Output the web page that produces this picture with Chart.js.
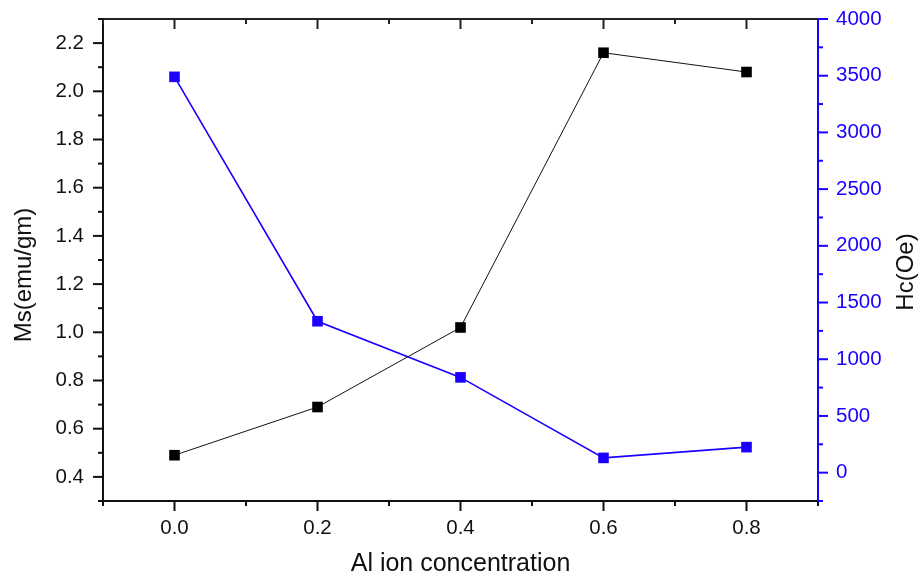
<!DOCTYPE html>
<html>
<head>
<meta charset="utf-8">
<script src="https://cdn.jsdelivr.net/npm/chart.js@4.4.1/dist/chart.umd.min.js"></script>
<style>
  html, body { margin: 0; padding: 0; background: #fff; }
  #wrap { position: relative; width: 922px; height: 579px; }
</style>
</head>
<body>
<div id="wrap"><canvas id="chart"></canvas></div>
<script>
// data
const alConc = [0.0, 0.2, 0.4, 0.6, 0.8];
const msValues = [0.49, 0.69, 1.02, 2.16, 2.08];
const hcValues = [3490, 1335, 840, 130, 225];

// ticks
const xTicks = [0.0, 0.2, 0.4, 0.6, 0.8];
const xMinor = [-0.1, 0.1, 0.3, 0.5, 0.7, 0.9];
const msTicks = [0.4, 0.6, 0.8, 1.0, 1.2, 1.4, 1.6, 1.8, 2.0, 2.2];
const msMinor = [0.3, 0.5, 0.7, 0.9, 1.1, 1.3, 1.5, 1.7, 1.9, 2.1, 2.3];
const hcTicks = [0, 500, 1000, 1500, 2000, 2500, 3000, 3500, 4000];
const hcMinor = [-250, 250, 750, 1250, 1750, 2250, 2750, 3250, 3750];

const BLUE = '#1a00ff';
const FONT = 'Liberation Sans, Arial, sans-serif';

const setTicks = (vals) => (scale) => { scale.ticks = vals.map(v => ({ value: v })); };
// fixed box sizes so the plot area lands where the original has it
const fixSize = (prop, px) => (scale) => {
  scale[prop] = px;
  scale.paddingTop = 0;
  scale.paddingBottom = 0;
  scale.paddingLeft = 0;
  scale.paddingRight = 0;
};

// frame + major/minor tick marks + y titles (both read bottom-to-top)
const framePlugin = {
  id: 'frame',
  afterDraw(chart) {
    const { ctx, chartArea: a, scales } = chart;
    const x = scales.x, yl = scales.y, yr = scales.y1;
    ctx.save();
    ctx.lineWidth = 2;
    ctx.lineCap = 'square';

    const line = (x1, y1, x2, y2, color) => {
      ctx.strokeStyle = color;
      ctx.beginPath();
      ctx.moveTo(x1, y1);
      ctx.lineTo(x2, y2);
      ctx.stroke();
    };

    line(a.left, a.top, a.right, a.top, '#222');
    line(a.left, a.bottom, a.right, a.bottom, '#111');
    line(a.left, a.top, a.left, a.bottom, '#111');

    ctx.lineCap = 'butt';
    xTicks.forEach(v => {
      const px = x.getPixelForValue(v);
      line(px, a.bottom, px, a.bottom + 10, '#111');
      line(px, a.top, px, a.top + 10, '#222');
    });
    xMinor.forEach(v => {
      const px = x.getPixelForValue(v);
      line(px, a.bottom, px, a.bottom + 5, '#111');
      line(px, a.top, px, a.top + 5, '#222');
    });
    msTicks.forEach(v => {
      const py = yl.getPixelForValue(v);
      line(a.left - 10, py, a.left, py, '#111');
    });
    msMinor.forEach(v => {
      const py = yl.getPixelForValue(v);
      line(a.left - 5, py, a.left, py, '#111');
    });
    hcTicks.forEach(v => {
      const py = yr.getPixelForValue(v);
      line(a.right, py, a.right + 10, py, BLUE);
    });
    hcMinor.forEach(v => {
      const py = yr.getPixelForValue(v);
      line(a.right, py, a.right + 5, py, BLUE);
    });
    ctx.lineCap = 'square';
    line(a.right, a.top, a.right, a.bottom, BLUE);

    const vText = (text, cx, cy) => {
      ctx.save();
      ctx.translate(cx, cy);
      ctx.rotate(-Math.PI / 2);
      ctx.fillStyle = '#111';
      ctx.font = '24px ' + FONT;
      ctx.textAlign = 'center';
      ctx.textBaseline = 'middle';
      ctx.fillText(text, 0, 0);
      ctx.restore();
    };
    vText('Ms(emu/gm)', 24, 275);
    vText('Hc(Oe)', 906, 272);
    ctx.restore();
  }
};

new Chart(document.getElementById('chart'), {
  type: 'line',
  data: {
    datasets: [
      {
        label: 'Ms',
        data: alConc.map((c, i) => ({ x: c, y: msValues[i] })),
        yAxisID: 'y',
        borderColor: '#111',
        backgroundColor: '#000',
        borderWidth: 1,
        pointStyle: 'rect',
        pointRadius: 7.5,
        pointBorderWidth: 0,
        tension: 0
      },
      {
        label: 'Hc',
        data: alConc.map((c, i) => ({ x: c, y: hcValues[i] })),
        yAxisID: 'y1',
        borderColor: BLUE,
        backgroundColor: BLUE,
        borderWidth: 1.6,
        pointStyle: 'rect',
        pointRadius: 7.5,
        pointBorderWidth: 0,
        tension: 0
      }
    ]
  },
  options: {
    responsive: true,
    maintainAspectRatio: false,
    animation: false,
    layout: { padding: { top: 19, left: 0, right: 0, bottom: 0 } },
    plugins: { legend: { display: false }, tooltip: { enabled: false } },
    scales: {
      x: {
        type: 'linear',
        min: -0.1,
        max: 0.9,
        afterBuildTicks: setTicks(xTicks),
        afterFit: fixSize('height', 78),
        grid: { display: false, drawTicks: false },
        border: { display: false },
        ticks: {
          padding: 15,
          color: '#111',
          font: { family: FONT, size: 20.5 },
          callback: v => v.toFixed(1)
        },
        title: {
          display: true,
          text: 'Al ion concentration',
          color: '#111',
          font: { family: FONT, size: 25 },
          padding: { top: 0, bottom: 0 }
        }
      },
      y: {
        position: 'left',
        min: 0.3,
        max: 2.3,
        afterBuildTicks: setTicks(msTicks),
        afterFit: fixSize('width', 103),
        grid: { display: false, drawTicks: false },
        border: { display: false },
        ticks: {
          padding: 19,
          color: '#111',
          font: { family: FONT, size: 20.5 },
          callback: v => v.toFixed(1)
        }
      },
      y1: {
        position: 'right',
        min: -250,
        max: 4000,
        afterBuildTicks: setTicks(hcTicks),
        afterFit: fixSize('width', 104),
        grid: { display: false, drawTicks: false },
        border: { display: false },
        ticks: {
          padding: 18,
          color: BLUE,
          font: { family: FONT, size: 20.5 },
          callback: v => String(v)
        }
      }
    }
  },
  plugins: [framePlugin]
});
</script>
</body>
</html>
